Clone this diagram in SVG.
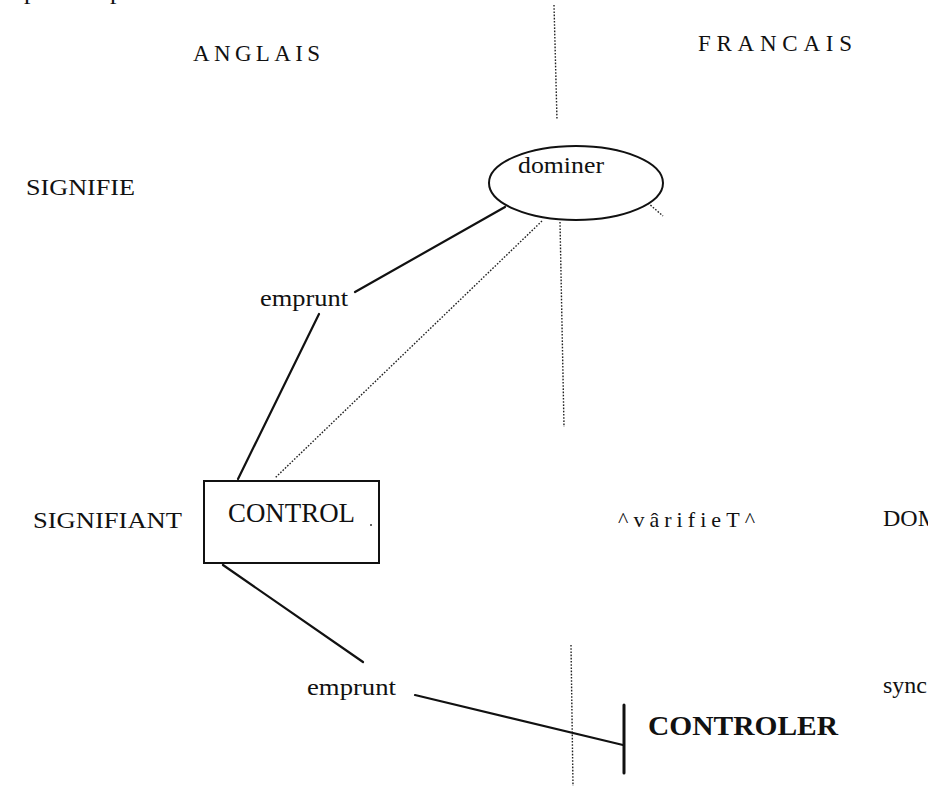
<svg xmlns="http://www.w3.org/2000/svg" width="928" height="786" viewBox="0 0 928 786">
<style>
text{font-family:"Liberation Serif","Times New Roman",serif;fill:#111}
.lbl{font-size:24px}
.sp{font-size:23px}
.solid{stroke:#111;stroke-width:2.2;fill:none;stroke-linecap:round}
.dot{stroke:#222;stroke-width:1.4;fill:none;stroke-dasharray:1.6 1.6}
.shape{stroke:#111;stroke-width:2;fill:#fff}
</style>
<rect width="928" height="786" fill="#fff"/>
<g id="fragments">
<text x="24" y="-1" style="font-size:26px">p</text>
<text x="110" y="-1" style="font-size:26px">p</text>
</g>
<g id="headers">
<text x="193" y="61" class="sp" textLength="127" lengthAdjust="spacing">ANGLAIS</text>
<text x="698" y="51" class="sp" textLength="154" lengthAdjust="spacing">FRANCAIS</text>
<text x="26" y="195" class="lbl" textLength="109" lengthAdjust="spacingAndGlyphs">SIGNIFIE</text>
<text x="33" y="528" class="lbl" textLength="149" lengthAdjust="spacingAndGlyphs">SIGNIFIANT</text>
<text x="883" y="526" class="lbl">DOM</text>
<text x="883" y="693" class="lbl">sync</text>
<text x="618" y="527" style="font-size:22px" textLength="137" lengthAdjust="spacing">^vârifieT^</text>
</g>
<g id="connectors">
<line class="dot" x1="554" y1="5" x2="557" y2="120"/>
<line class="dot" x1="560" y1="222" x2="564" y2="427"/>
<line class="dot" x1="542" y1="221" x2="275" y2="478"/>
<line class="dot" x1="648" y1="203" x2="663" y2="216"/>
<line class="dot" x1="571" y1="645" x2="573" y2="786"/>
<line class="solid" x1="505" y1="207" x2="355" y2="292"/>
<line class="solid" x1="319" y1="314" x2="238" y2="479"/>
<line class="solid" x1="223" y1="565" x2="363" y2="662"/>
<line class="solid" x1="415" y1="695" x2="623" y2="745"/>
<line class="solid" x1="624" y1="705" x2="624" y2="773" style="stroke-width:3"/>
</g>
<g id="node-dominer">
<ellipse class="shape" cx="576" cy="183" rx="87" ry="37"/>
<text x="518" y="173" style="font-size:23px" textLength="86" lengthAdjust="spacingAndGlyphs">dominer</text>
</g>
<g id="node-control">
<rect class="shape" x="204" y="481" width="175" height="82"/>
<text x="228" y="522" style="font-size:27px" textLength="127" lengthAdjust="spacingAndGlyphs">CONTROL</text>
<circle cx="371" cy="525" r="1" fill="#333"/>
</g>
<g id="label-emprunt-1">
<text x="260" y="306" class="lbl" textLength="88" lengthAdjust="spacingAndGlyphs">emprunt</text>
</g>
<g id="label-emprunt-2">
<text x="307" y="695" class="lbl" textLength="89" lengthAdjust="spacingAndGlyphs">emprunt</text>
</g>
<g id="node-controler">
<text x="648" y="735" style="font-size:28px;font-weight:bold" textLength="190" lengthAdjust="spacingAndGlyphs">CONTROLER</text>
</g>
</svg>
